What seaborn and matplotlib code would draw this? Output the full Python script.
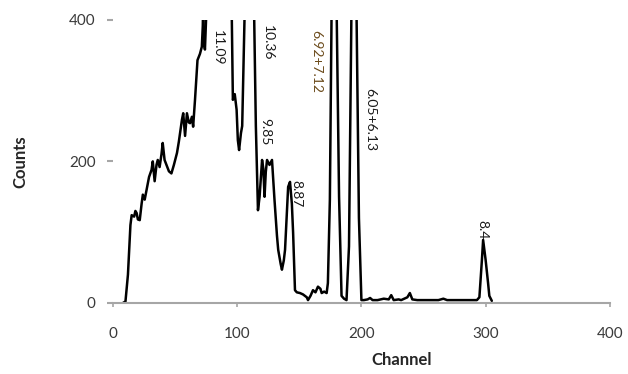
import matplotlib
matplotlib.use('Agg')
import matplotlib.pyplot as plt
import seaborn as sns
import pandas as pd

# spectrum (channel, counts); peaks above 400 are clipped
channel = [8, 10, 12, 14, 15, 17, 18, 19, 20, 21.5, 23, 24, 25.5, 27, 29, 31, 32,
           33.5, 35, 36, 37.5, 39, 40, 41.5, 43, 45, 47, 49, 51.5, 53, 54, 55.5,
           56.5, 58, 59.5, 61, 62, 63.5, 64.5, 66, 68, 70, 71.5, 72.5, 73, 74, 75,
           78, 85, 92, 95.5, 96.5, 98, 99.5, 100.5, 101.5, 103, 104, 105, 106,
           108, 111, 113.5, 115, 116.7, 118, 120, 121, 122, 123, 124, 126, 128,
           130, 132, 133, 135, 136, 137.5, 138.5, 140, 141, 142.5, 144, 145,
           146.5, 148, 150.5, 153, 156, 157, 159, 161, 163, 165, 167, 168, 170,
           172, 173, 174.6, 176, 178, 180, 182, 184, 186, 188, 190, 192, 194,
           196, 198, 200, 202, 205, 207, 209, 213, 218, 222, 224, 226, 230, 232,
           237, 239, 241, 245, 255, 262, 266, 269, 280, 293, 295, 297, 298, 299,
           300, 302, 303, 305]
counts = [0, 2, 40, 110, 124, 122, 130, 127, 118, 117, 140, 153, 146, 160, 178, 188, 200,
          172, 195, 202, 192, 210, 226, 202, 195, 186, 183, 195, 212, 228, 240, 259,
          268, 236, 268, 255, 254, 263, 249, 287, 343, 352, 362, 400, 370, 358, 405,
          500, 600, 500, 420, 287, 295, 273, 230, 216, 240, 250, 330, 410,
          600, 600, 420, 250, 131, 150, 202, 190, 150, 185, 202, 195, 202,
          146, 95, 75, 55, 47, 60, 75, 130, 164, 171, 140, 99,
          18, 15, 14, 12, 8, 4, 10, 18, 15, 23, 20, 14, 16,
          14, 28, 146, 420, 700, 420, 150, 10, 6, 4, 80, 420, 700,
          420, 120, 4, 4, 5, 7, 4, 4, 6, 5, 11, 4, 5, 4,
          8, 14, 5, 4, 4, 4, 6, 4, 4, 4, 8, 60, 89, 75,
          61, 28, 10, 3]

peak_labels = ['11.09', '10.36', '9.85', '8.87', '6.92+7.12', '6.05+6.13', '8.4']
label_x = [84.5, 124.7, 122.3, 148, 163.4, 206.8, 297.8]
label_top = [386, 393, 261, 174, 386, 304, 117]

df = pd.DataFrame({'Channel': channel, 'Counts': counts})

sns.set_style('white')
plt.rcParams['font.family'] = ['Lato', 'DejaVu Sans']

fig = plt.figure(figsize=(6.28, 3.74), dpi=100)
ax = fig.add_axes([0.18, 0.19, 0.791, 0.757])

sns.lineplot(data=df, x='Channel', y='Counts', color='black', linewidth=1.8,
             estimator=None, sort=False, ax=ax)

for lab, lx, ly in zip(peak_labels, label_x, label_top):
    col = '#6b4a1a' if lab == '6.92+7.12' else '#1a1a1a'
    ax.text(lx, ly, lab, rotation=-90, ha='center', va='top', fontsize=10, color=col)

ax.set_xlim(0, 400)
ax.set_ylim(0, 400)
ax.set_xticks([0, 100, 200, 300, 400])
ax.set_yticks([0, 200, 400])

for s in ['top', 'right', 'left']:
    ax.spines[s].set_visible(False)
ax.spines['bottom'].set_color('#a6a6a6')
ax.spines['bottom'].set_linewidth(1.5)

ax.tick_params(axis='x', direction='out', length=3, width=1.2, color='#a6a6a6',
               pad=14, labelsize=11, labelcolor='#3a3a3a')
ax.tick_params(axis='y', direction='out', length=4.5, width=1.5, color='#a6a6a6',
               pad=8, labelsize=11, labelcolor='#3a3a3a')
ax.yaxis.set_ticks_position('left')
ax.xaxis.set_ticks_position('bottom')

ax.set_xlabel('Channel', fontsize=12, fontweight='bold', va='center')
ax.set_ylabel('Counts', fontsize=12, fontweight='bold', va='center')
ax.xaxis.set_label_coords(0.58, -0.20)
ax.yaxis.set_label_coords(-0.187, 0.5)

plt.savefig('out.png', dpi=100)
